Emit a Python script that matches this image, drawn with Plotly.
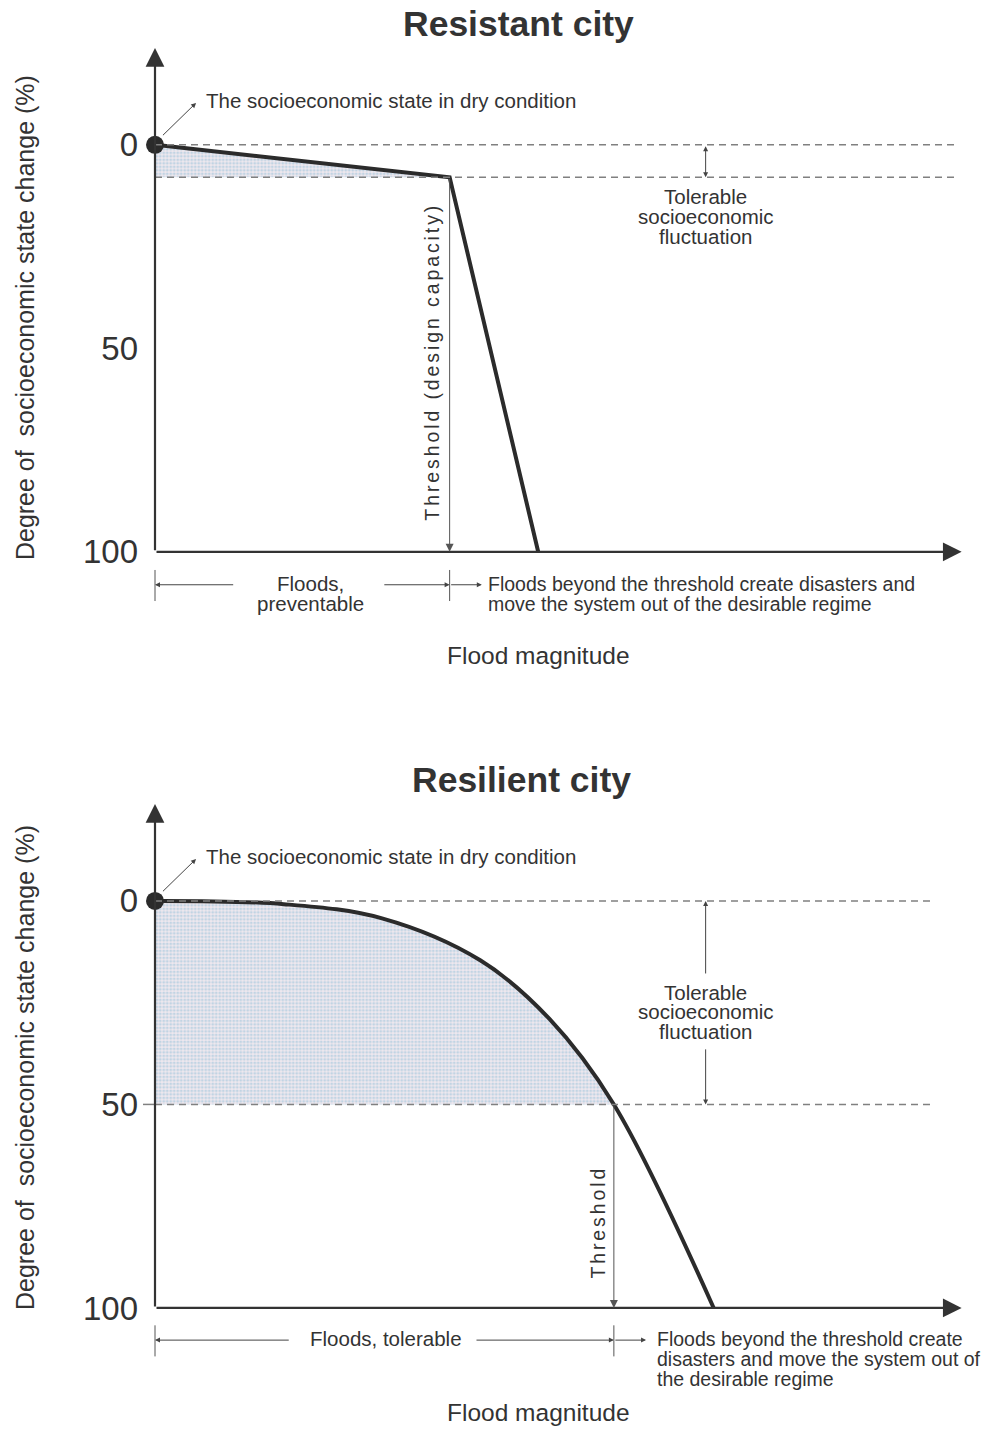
import plotly.graph_objects as go

# ---------------- data ----------------
# Resistant city curve (flood magnitude, % change in socioeconomic state)
resistant_x = [0, 36.6, 47.6]
resistant_y = [0, 8, 100]
resistant_threshold_x = 36.6
resistant_tolerable = 8

# Resilient city curve
resilient_x = [0, 16, 28.2, 40.4, 49.0, 57.0, 69.4]
resilient_y = [0, 0.8, 4.3, 14.6, 29.0, 50, 100]
resilient_threshold_x = 57.0
resilient_tolerable = 50

tick_vals = [0, 50, 100]
tick_labels = ["0", "50", "100"]

panel_titles = ["Resistant city", "Resilient city"]
y_title = "Degree of  socioeconomic state change (%)"
x_title = "Flood magnitude"
dry_label = "The socioeconomic state in dry condition"
tolerable_lines = ["Tolerable", "socioeconomic", "fluctuation"]
threshold_labels = ["Threshold (design capacity)", "Threshold"]
left_zone_lines = [["Floods,", "preventable"], ["Floods, tolerable"]]
right_zone_lines = [
    ["Floods beyond the threshold create disasters and",
     "move the system out of the desirable regime"],
    ["Floods beyond the threshold create",
     "disasters and move the system out of",
     "the desirable regime"],
]

# ---------------- style ----------------
FONT = "Liberation Sans, Arial, sans-serif"
TXT = "#333333"
CURVE = "#2b2b2b"
DASH = "#808080"
THIN = "#444444"
LINE_STEP = 4.87  # line spacing of multi-line labels, in y units

fig = go.Figure()

Y_RANGE = [129, -26]
X_RANGE = [0, 101.24]

annotations = []
shapes = []


def arrow(xr, yr, xh, yh, xt, yt, head=2, size=1.0, width=1.0, color=THIN, side="end"):
    annotations.append(dict(
        x=xh, y=yh, ax=xt, ay=yt, xref=xr, yref=yr, axref=xr, ayref=yr,
        text="", showarrow=True, arrowhead=head, arrowsize=size, arrowwidth=width,
        arrowcolor=color, arrowside=side, standoff=0, startstandoff=0))


def text(xr, yr, x, y, t, size=19.5, xanchor="center", angle=0):
    annotations.append(dict(
        x=x, y=y, xref=xr, yref=yr, text=t, showarrow=False, xanchor=xanchor,
        yanchor="middle", textangle=angle, borderpad=0,
        font=dict(family=FONT, size=size, color=TXT)))


def lines(xr, yr, x, y_first, items, size=19.5, xanchor="center"):
    for k, t in enumerate(items):
        text(xr, yr, x, y_first + k * LINE_STEP, t, size=size, xanchor=xanchor)


panels = [
    dict(xr="x", yr="y", cx=resistant_x, cy=resistant_y, thr=resistant_threshold_x,
         tol=resistant_tolerable, spline=False, dash_end=99.4, tol_text_y=12.8,
         thr_text=(34.4, 53.3), left_arrows=(9.9, 28.3), left_text_x=19.3,
         below_y=108.1, zone_text_y=107.9, tol_arrows=None, xt_y=125.6, rt_dx=4.7),
    dict(xr="x2", yr="y2", cx=resilient_x, cy=resilient_y, thr=resilient_threshold_x,
         tol=resilient_tolerable, spline=True, dash_end=96.6, tol_text_y=22.4,
         thr_text=(55.1, 78.9), left_arrows=(16.8, 39.75), left_text_x=28.7,
         below_y=107.9, zone_text_y=107.6, tol_arrows=(18.2, 36.1), xt_y=125.7, rt_dx=5.2),
]

for i, p in enumerate(panels):
    xr, yr = p["xr"], p["yr"]
    shape = "spline" if p["spline"] else "linear"

    # shaded area between curve and tolerable level up to the threshold
    n_fill = len([x for x in p["cx"] if x <= p["thr"]])
    fig.add_trace(go.Scatter(
        x=[0, p["thr"]], y=[p["tol"], p["tol"]], xaxis=xr, yaxis=yr, mode="lines",
        line=dict(width=0.1, color="rgba(0,0,0,0)"),
        hoverinfo="skip", showlegend=False))
    fig.add_trace(go.Scatter(
        x=p["cx"][:n_fill], y=p["cy"][:n_fill], xaxis=xr, yaxis=yr, mode="lines",
        fill="tonexty", line=dict(shape=shape, smoothing=1.0, width=0.1, color="rgba(0,0,0,0)"),
        fillcolor="#dde3e8",
        fillpattern=dict(shape=".", fgcolor="#94c0d8", bgcolor="#eee8ee", size=3.5, solidity=0.5),
        hoverinfo="skip", showlegend=False))

    # dashed reference lines
    for yv in [0, p["tol"]]:
        shapes.append(dict(type="line", xref=xr, yref=yr, x0=0, x1=p["dash_end"], y0=yv, y1=yv,
                           line=dict(color=DASH, width=1.5, dash="7px,5px")))

    # the curve
    fig.add_trace(go.Scatter(
        x=p["cx"], y=p["cy"], xaxis=xr, yaxis=yr, mode="lines",
        line=dict(color=CURVE, width=4, shape=shape, smoothing=1.0),
        hoverinfo="skip", showlegend=False, cliponaxis=False))

    # dry-condition dot
    fig.add_trace(go.Scatter(
        x=[p["cx"][0]], y=[p["cy"][0]], xaxis=xr, yaxis=yr, mode="markers",
        marker=dict(color=CURVE, size=18), hoverinfo="skip", showlegend=False, cliponaxis=False))

    # axes with arrowheads
    arrow(xr, yr, 0, -23.8, 0, 100, head=2, size=1.7, width=2.2, color="#333333")
    arrow(xr, yr, 100.2, 100, 0, 100, head=2, size=1.7, width=2.2, color="#333333")

    # dry-condition pointer and label
    arrow(xr, yr, 5.1, -10.3, 0.8, -2.0, head=2, size=1.0, width=1.0)
    text(xr, yr, 6.2, -10.8, dry_label, size=20.5, xanchor="left")

    # tolerable fluctuation
    tx = 68.4
    if p["tol_arrows"] is None:
        arrow(xr, yr, tx, p["tol"], tx, 0, head=2, size=1.0, width=1.0, side="end+start")
    else:
        a_up, a_dn = p["tol_arrows"]
        arrow(xr, yr, tx, 0, tx, a_up, head=2, size=1.0, width=1.0)
        arrow(xr, yr, tx, p["tol"], tx, a_dn, head=2, size=1.0, width=1.0)
    lines(xr, yr, tx, p["tol_text_y"], tolerable_lines, size=20.5)

    # threshold line and label
    arrow(xr, yr, p["thr"], 100, p["thr"], p["tol"], head=2, size=1.6, width=1.0, color="#555555")
    tlx, tly = p["thr_text"]
    text(xr, yr, tlx, tly,
         '<span style="letter-spacing:2.9px">' + threshold_labels[i] + "</span>",
         size=19.5, angle=-90)

    # zone markers below x axis
    by = p["below_y"]
    for vx in [0, p["thr"]]:
        arrow(xr, yr, vx, by + 4.0, vx, by - 4.0, head=0, width=1.0, color="#555555")
    la, ra = p["left_arrows"]
    arrow(xr, yr, 0, by, la, by, head=2, size=1.0, width=1.0)
    arrow(xr, yr, p["thr"], by, ra, by, head=2, size=1.0, width=1.0)
    arrow(xr, yr, p["thr"] + 4.0, by, p["thr"], by, head=2, size=1.0, width=1.0)
    lines(xr, yr, p["left_text_x"], p["zone_text_y"], left_zone_lines[i], size=20.5)
    lines(xr, yr, p["thr"] + p["rt_dx"], p["zone_text_y"], right_zone_lines[i], size=19.5, xanchor="left")

    # x-axis title
    text(xr, yr, 47.6, p["xt_y"], x_title, size=24.5)

# stub of the 50 dashed line left of the axis (bottom panel)
shapes.append(dict(type="line", xref="paper", yref="y2", x0=-0.0147, x1=0, y0=50, y1=50,
                   line=dict(color=DASH, width=1.5)))

# panel titles
for tx_, ty_, t in [(0.4466, 1.0108, panel_titles[0]), (0.4503, 0.4658, panel_titles[1])]:
    annotations.append(dict(x=tx_, y=ty_, xref="paper", yref="paper", text="<b>" + t + "</b>",
                            showarrow=False, xanchor="center", yanchor="middle",
                            font=dict(family=FONT, size=35.5, color=TXT)))
# y-axis titles
for yc in [0.7988, 0.2581]:
    annotations.append(dict(x=-0.1595, y=yc, xref="paper", yref="paper", text=y_title,
                            showarrow=False, xanchor="center", yanchor="middle", textangle=-90,
                            font=dict(family=FONT, size=25, color=TXT)))

axis_common_x = dict(range=X_RANGE, showgrid=False, zeroline=False, showline=False,
                     showticklabels=False, ticks="", fixedrange=True)
axis_common_y = dict(range=Y_RANGE, showgrid=False, zeroline=False, showline=False,
                     tickvals=tick_vals, ticktext=tick_labels, ticks="",
                     ticklabelstandoff=16,
                     tickfont=dict(family=FONT, size=33, color=TXT), fixedrange=True)

fig.update_layout(
    width=984, height=1429,
    margin=dict(l=155, r=14, t=39, b=3),
    paper_bgcolor="white", plot_bgcolor="white",
    xaxis=dict(domain=[0, 1], anchor="y", **axis_common_x),
    yaxis=dict(domain=[0.5452, 1], anchor="x", **axis_common_y),
    xaxis2=dict(domain=[0, 1], anchor="y2", **axis_common_x),
    yaxis2=dict(domain=[0, 0.4549], anchor="x2", **axis_common_y),
    annotations=annotations,
    shapes=shapes,
    showlegend=False,
    hovermode=False,
)

fig.write_html("out.html", config={"displayModeBar": False},
               post_script="document.body.style.margin='0';document.body.style.overflow='hidden';")
